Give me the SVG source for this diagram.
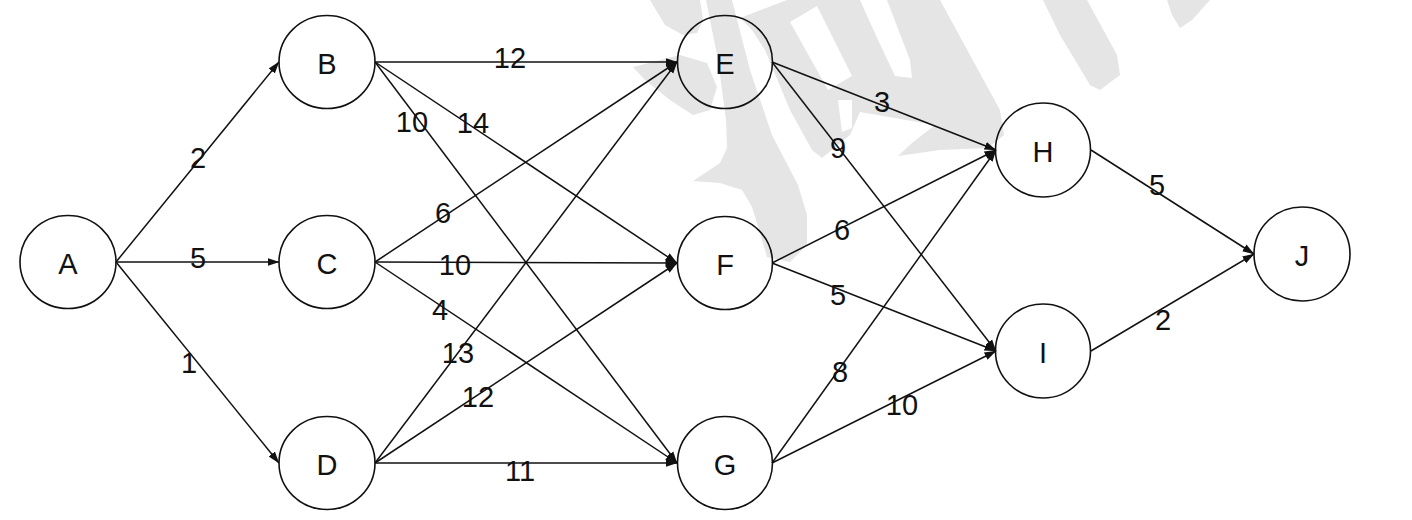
<svg xmlns="http://www.w3.org/2000/svg" width="1412" height="520" viewBox="0 0 1412 520">
<style>
.wm{fill:#e5e5e5;stroke:none}
.wh{fill:#ffffff;stroke:none}
.node ellipse{fill:none;stroke:#111;stroke-width:1.6}
.node text{font-family:"Liberation Sans",Arial,sans-serif;font-size:29px;fill:#111;text-anchor:middle}
.edge{stroke:#111;stroke-width:1.5;fill:none;marker-end:url(#arr)}
.lbl{font-family:"Liberation Sans",Arial,sans-serif;font-size:29px;fill:#111;text-anchor:middle}
</style>
<defs>
<marker id="arr" viewBox="0 0 12 10" markerWidth="12" markerHeight="10" refX="11.5" refY="5" orient="auto" markerUnits="userSpaceOnUse">
<path d="M0,1 L12,5 L0,9 Z" fill="#111"/>
</marker>
</defs>
<rect width="1412" height="520" fill="#ffffff"/>
<g id="watermark">
<path class="wm" d="M650,0 L700,0 L703,20 L697,33 L683,35 L665,25 Z"/>
<path class="wm" d="M633,67 L680,55 L707,63 L717,87 L710,110 L693,115 L670,100 L645,80 Z"/>
<path class="wm" d="M706,0 L732,0 L750,70 L772,135 L798,185 L807,215 L807,245 L790,262 L767,257 L760,233 L752,207 L742,190 L720,183 L693,181 L720,163 L727,148 L726,120 L718,60 Z"/>
<path class="wm" d="M740,18 L787,0 L940,0 L1000,110 L1004,135 L988,148 L940,150 L898,156 L912,143 L935,125 L860,112 L850,135 L822,158 L812,150 L790,110 L765,50 L752,30 Z"/>
<path class="wh" d="M790,22 L817,6 L852,76 L828,90 Z"/>
<path class="wh" d="M860,0 L887,0 L910,60 L912,78 L895,76 L878,40 Z"/>
<path class="wh" d="M838,100 L852,100 L852,128 L842,132 Z"/>
<path class="wm" d="M1043,0 L1087,0 L1117,55 L1120,75 L1100,90 L1090,85 L1060,35 Z"/>
<path class="wm" d="M1167,0 L1210,0 L1192,20 L1180,28 L1172,15 Z"/>
</g>
<g id="connectors">
<line class="edge" x1="116" y1="262" x2="279" y2="62"/>
<line class="edge" x1="116" y1="262" x2="279" y2="262"/>
<line class="edge" x1="116" y1="262" x2="279" y2="463"/>
<line class="edge" x1="375" y1="62" x2="677" y2="62"/>
<line class="edge" x1="375" y1="62" x2="677" y2="263"/>
<line class="edge" x1="375" y1="62" x2="677" y2="463"/>
<line class="edge" x1="375" y1="262" x2="677" y2="62"/>
<line class="edge" x1="375" y1="262" x2="677" y2="263"/>
<line class="edge" x1="375" y1="262" x2="677" y2="463"/>
<line class="edge" x1="375" y1="463" x2="677" y2="62"/>
<line class="edge" x1="375" y1="463" x2="677" y2="263"/>
<line class="edge" x1="375" y1="463" x2="677" y2="463"/>
<line class="edge" x1="772" y1="62" x2="996" y2="150"/>
<line class="edge" x1="772" y1="62" x2="996" y2="351"/>
<line class="edge" x1="772" y1="263" x2="996" y2="150"/>
<line class="edge" x1="772" y1="263" x2="996" y2="351"/>
<line class="edge" x1="772" y1="463" x2="996" y2="150"/>
<line class="edge" x1="772" y1="463" x2="996" y2="351"/>
<line class="edge" x1="1091" y1="150" x2="1254" y2="254"/>
<line class="edge" x1="1091" y1="351" x2="1254" y2="254"/>
<text class="lbl" x="198" y="168">2</text>
<text class="lbl" x="198" y="268">5</text>
<text class="lbl" x="189" y="373">1</text>
<text class="lbl" x="510" y="68">12</text>
<text class="lbl" x="412" y="132">10</text>
<text class="lbl" x="473" y="133">14</text>
<text class="lbl" x="443" y="223">6</text>
<text class="lbl" x="455" y="275">10</text>
<text class="lbl" x="440" y="320">4</text>
<text class="lbl" x="458" y="363">13</text>
<text class="lbl" x="478" y="407">12</text>
<text class="lbl" x="520" y="481">11</text>
<text class="lbl" x="882" y="112">3</text>
<text class="lbl" x="838" y="158">9</text>
<text class="lbl" x="842" y="240">6</text>
<text class="lbl" x="838" y="305">5</text>
<text class="lbl" x="840" y="382">8</text>
<text class="lbl" x="902" y="415">10</text>
<text class="lbl" x="1157" y="195">5</text>
<text class="lbl" x="1163" y="330">2</text>
</g>
<g id="node-A" class="node"><ellipse cx="68" cy="262" rx="48" ry="46.5"/><text x="68" y="274">A</text></g>
<g id="node-B" class="node"><ellipse cx="327" cy="62" rx="48" ry="46.5"/><text x="327" y="74">B</text></g>
<g id="node-C" class="node"><ellipse cx="327" cy="262" rx="48" ry="46.5"/><text x="327" y="274">C</text></g>
<g id="node-D" class="node"><ellipse cx="327" cy="463" rx="48" ry="46.5"/><text x="327" y="475">D</text></g>
<g id="node-E" class="node"><ellipse cx="725" cy="62" rx="47.5" ry="46.5"/><text x="725" y="74">E</text></g>
<g id="node-F" class="node"><ellipse cx="725" cy="263" rx="47.5" ry="46.5"/><text x="725" y="275">F</text></g>
<g id="node-G" class="node"><ellipse cx="725" cy="463" rx="47.5" ry="46.5"/><text x="725" y="475">G</text></g>
<g id="node-H" class="node"><ellipse cx="1043" cy="150" rx="47.5" ry="47"/><text x="1043" y="162">H</text></g>
<g id="node-I" class="node"><ellipse cx="1043" cy="351" rx="47.5" ry="47"/><text x="1043" y="363">I</text></g>
<g id="node-J" class="node"><ellipse cx="1302" cy="254" rx="48" ry="47"/><text x="1302" y="266">J</text></g>
</svg>
